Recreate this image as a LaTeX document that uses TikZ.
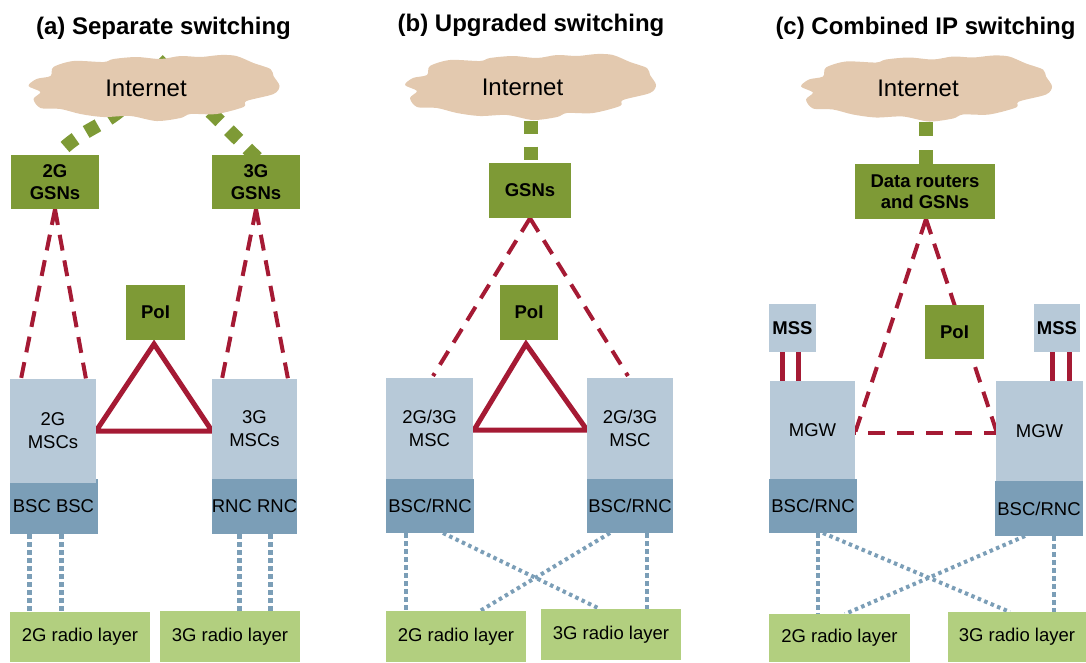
\documentclass[tikz,border=0pt]{standalone}
\usepackage{fontspec}
\setmainfont{Liberation Sans}
\usetikzlibrary{backgrounds}
\definecolor{gsngreen}{HTML}{7E9A36}
\definecolor{mscblue}{HTML}{B7C9D8}
\definecolor{bscblue}{HTML}{7B9EB7}
\definecolor{radiogreen}{HTML}{B2CF7F}
\definecolor{cloudtan}{HTML}{E3C9AF}
\definecolor{linkred}{HTML}{A51A34}
\tikzset{
    paneltitle/.style={font=\fontsize{24}{28}\selectfont\bfseries, inner sep=0pt},
    inetlabel/.style={inner sep=0pt, minimum width=251, minimum height=66, font=\fontsize{24}{28}\selectfont},
    corebox/.style={rectangle, fill=gsngreen, inner sep=0pt, align=center, font=\fontsize{18.5}{21.5}\selectfont\bfseries},
    mscbox/.style={rectangle, fill=mscblue, inner sep=0pt, align=center, font=\fontsize{18.5}{23}\selectfont},
    mssbox/.style={mscbox, font=\fontsize{18.5}{23}\selectfont\bfseries},
    bscbox/.style={rectangle, fill=bscblue, inner sep=0pt, align=center, font=\fontsize{18.5}{23}\selectfont},
    radiobox/.style={rectangle, fill=radiogreen, inner sep=0pt, align=center, font=\fontsize{18.5}{23}\selectfont},
    uplink/.style={draw=gsngreen, line width=13.5pt, dash pattern=on 13.5pt off 12.5pt},
    ctrllink/.style={draw=linkred, line width=4pt, dash pattern=on 16pt off 10pt},
    trunk/.style={draw=linkred, line width=5pt, line join=miter},
    radiolink/.style={draw=bscblue, line width=5pt, dash pattern=on 5pt off 3pt},
    crosslink/.style={draw=bscblue, line width=4pt, dash pattern=on 3.5pt off 3.5pt}
}
\newcommand{\cloudfill}[1]{
    \fill[cloudtan, shift={(#1.center)}] plot[smooth cycle, tension=0.5] coordinates {
        (-125,-2) (-117,-9) (-103,-12) (-100,-21) (-80,-27) (-50,-26) (-40,-29) (-17,-31)
        (7,-29) (27,-32) (47,-31) (67,-33) (83,-32) (100,-25) (117,-19) (120,-12) (126,-2)
        (120,6) (93,13) (90,19) (63,26) (37,26) (27,30) (3,33) (-23,28) (-50,29) (-73,26)
        (-93,21) (-113,20) (-120,11) (-113,4)};
}
\begin{document}
\begin{tikzpicture}[x=1pt, y=-1pt]
    \useasboundingbox (0, 0) rectangle (1086, 662);
    % titles
    \node[paneltitle] (ta) at (163.5, 28) {(a) Separate switching};
    \node[paneltitle] (tb) at (531, 25) {(b) Upgraded switching};
    \node[paneltitle] (tc) at (925.5, 28) {(c) Combined IP switching};

    % (a)
    \node[inetlabel] (neta) at (153.5, 88) {\hspace*{-15pt}Internet};
    \node[corebox, minimum width=88, minimum height=54] (gsna2) at (55, 182) {2G\\GSNs};
    \node[corebox, minimum width=88, minimum height=54] (gsna3) at (256, 182) {3G\\GSNs};
    \node[corebox, minimum width=59, minimum height=55] (pola) at (155.5, 312.5) {PoI};
    \node[bscbox, minimum width=88, minimum height=55] (bsca) at (54, 506.5) {\hspace*{-1pt}BSC BSC};
    \node[mscbox, minimum width=86, minimum height=104] (msca) at (53, 431) {2G\\MSCs};
    \node[bscbox, minimum width=85, minimum height=55] (rnca) at (254.5, 506.5) {RNC RNC};
    \node[mscbox, minimum width=85, minimum height=100] (mscb) at (254.5, 429) {3G\\MSCs};
    \node[radiobox, minimum width=140, minimum height=50] (rada2) at (80, 637) {2G radio layer};
    \node[radiobox, minimum width=140, minimum height=51] (rada3) at (230, 636.5) {3G radio layer};
    \coordinate (topa) at (158, 60);
    \coordinate (a1) at (21, 379);
    \coordinate (a2) at (86, 379);
    \coordinate (a3) at (222, 379);
    \coordinate (a4) at (288, 379);
    \coordinate (a5) at (154, 344);
    \coordinate (a6) at (96, 431);
    \coordinate (a7) at (212, 431);
    \coordinate (a8) at (29, 534);
    \coordinate (a9) at (61, 534);
    \coordinate (a10) at (29, 612);
    \coordinate (a11) at (61, 612);
    \coordinate (a12) at (239, 534);
    \coordinate (a13) at (270, 534);
    \coordinate (a14) at (239, 611);
    \coordinate (a15) at (270, 611);
    \coordinate (a16) at (65, 147);
    \coordinate (a17) at (257, 158);

    % (b)
    \node[inetlabel] (netb) at (530, 87) {\hspace*{-15pt}Internet};
    \node[corebox, minimum width=82, minimum height=55] (gsnb) at (530, 190.5) {GSNs};
    \node[corebox, minimum width=58, minimum height=55] (polb) at (529, 312.5) {PoI};
    \node[mscbox, minimum width=87, minimum height=101] (mscc) at (429.5, 428.5) {2G/3G\\MSC};
    \node[bscbox, minimum width=88, minimum height=54] (bscb) at (430, 506) {BSC/RNC};
    \node[mscbox, minimum width=86, minimum height=101] (mscd) at (630, 428.5) {2G/3G\\MSC};
    \node[bscbox, minimum width=86, minimum height=54] (bscc) at (630, 506) {BSC/RNC};
    \node[radiobox, minimum width=140, minimum height=51] (radb2) at (456, 636.5) {2G radio layer};
    \node[radiobox, minimum width=140, minimum height=51] (radb3) at (611, 634.5) {3G radio layer};
    \coordinate (b1) at (433, 376);
    \coordinate (b2) at (628, 376);
    \coordinate (b3) at (526, 344);
    \coordinate (b4) at (474, 430);
    \coordinate (b5) at (587, 430);
    \coordinate (b6) at (406, 533);
    \coordinate (b7) at (406, 611);
    \coordinate (b8) at (647, 533);
    \coordinate (b9) at (647, 609);
    \coordinate (b10) at (443, 533);
    \coordinate (b11) at (600, 609);
    \coordinate (b12) at (610, 533);
    \coordinate (b13) at (480, 611);
    \coordinate (b14) at (531, 120.5);
    \coordinate (b15) at (531, 163);

    % (c)
    \node[inetlabel] (netc) at (926, 88.5) {\hspace*{-16pt}Internet};
    \node[corebox, minimum width=140, minimum height=55] (gsnc) at (925, 191.5) {Data routers\\and GSNs};
    \node[corebox, minimum width=59, minimum height=54] (polc) at (954.5, 332) {PoI};
    \node[mssbox, minimum width=47, minimum height=48] (mssa) at (792.5, 328) {MSS};
    \node[mssbox, minimum width=46, minimum height=48] (mssb) at (1057, 328) {MSS};
    \node[mscbox, minimum width=85, minimum height=98] (mgwa) at (812.5, 430) {MGW};
    \node[bscbox, minimum width=88, minimum height=54] (bscd) at (813, 506) {BSC/RNC};
    \node[mscbox, minimum width=87, minimum height=100] (mgwb) at (1039.5, 431) {MGW};
    \node[bscbox, minimum width=88, minimum height=55] (bsce) at (1039, 508.5) {BSC/RNC};
    \node[radiobox, minimum width=141, minimum height=48] (radc2) at (839.5, 638) {2G radio layer};
    \node[radiobox, minimum width=138, minimum height=50] (radc3) at (1017, 637) {3G radio layer};
    \coordinate (c1) at (926, 219);
    \coordinate (c2) at (855, 433);
    \coordinate (c3) at (997, 433);
    \coordinate (c4) at (782, 352);
    \coordinate (c5) at (782, 381);
    \coordinate (c6) at (798, 352);
    \coordinate (c7) at (798, 381);
    \coordinate (c8) at (1052, 352);
    \coordinate (c9) at (1052, 381);
    \coordinate (c10) at (1069, 352);
    \coordinate (c11) at (1069, 381);
    \coordinate (c12) at (818, 533);
    \coordinate (c13) at (818, 614);
    \coordinate (c14) at (1054, 536);
    \coordinate (c15) at (1054, 612);
    \coordinate (c16) at (823, 533);
    \coordinate (c17) at (1010, 612);
    \coordinate (c18) at (1025, 536);
    \coordinate (c19) at (845, 614);
    \coordinate (c20) at (926, 122);
    \coordinate (c21) at (926, 164);

    \begin{pgfonlayer}{background}
        \draw[uplink] (a16) .. controls (95, 120) and (125, 125) .. (topa);
        \draw[uplink] (a17) -- (topa);
        \cloudfill{neta}
        \draw[ctrllink] (gsna2.south) -- (a1);
        \draw[ctrllink] (gsna2.south) -- (a2);
        \draw[ctrllink] (gsna3.south) -- (a3);
        \draw[ctrllink] (gsna3.south) -- (a4);
        \draw[trunk] (a5) -- (a6) -- (a7) -- cycle;
        \draw[radiolink] (a8) -- (a10);
        \draw[radiolink] (a9) -- (a11);
        \draw[radiolink] (a12) -- (a14);
        \draw[radiolink] (a13) -- (a15);

        \draw[uplink] (b14) -- (b15);
        \cloudfill{netb}
        \draw[ctrllink] (gsnb.south) -- (b1);
        \draw[ctrllink] (gsnb.south) -- (b2);
        \draw[trunk] (b3) -- (b4) -- (b5) -- cycle;
        \draw[radiolink, line width=4pt] (b6) -- (b7);
        \draw[radiolink, line width=4pt] (b8) -- (b9);
        \draw[crosslink] (b10) -- (b11);
        \draw[crosslink] (b12) -- (b13);

        \draw[uplink, dash pattern=on 14pt off 14pt] (c20) -- (c21);
        \cloudfill{netc}
        \draw[ctrllink] (c1) -- (c2);
        \draw[ctrllink] (c1) -- (c3);
        \draw[ctrllink, dash pattern=on 17pt off 12pt, dash phase=16pt] (c2) -- (c3);
        \draw[trunk] (c4) -- (c5);
        \draw[trunk] (c6) -- (c7);
        \draw[trunk] (c8) -- (c9);
        \draw[trunk] (c10) -- (c11);
        \draw[radiolink, line width=4pt] (c12) -- (c13);
        \draw[radiolink, line width=4pt] (c14) -- (c15);
        \draw[crosslink] (c16) -- (c17);
        \draw[crosslink] (c18) -- (c19);
    \end{pgfonlayer}
\end{tikzpicture}
\end{document}
